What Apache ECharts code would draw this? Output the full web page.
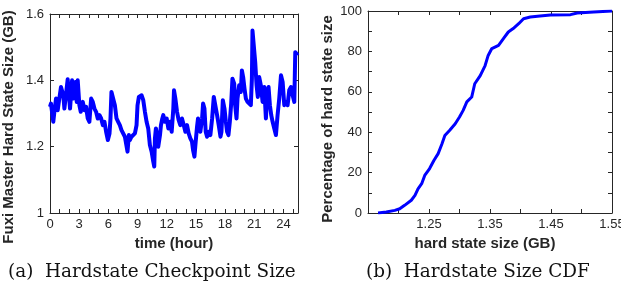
<!DOCTYPE html>
<html>
<head>
<meta charset="utf-8">
<script src="https://cdn.jsdelivr.net/npm/echarts@6/dist/echarts.min.js"></script>
<style>
html,body{margin:0;padding:0;background:#fff;}
#chart{width:621px;height:291px;}
</style>
</head>
<body>
<div id="chart"></div>
<script>
// ---- Left chart: Fuxi master hard state size over time ----
const timeHours = [0,.10,.27,.34,.45,.62,.79,.96,1.13,1.24,1.37,1.48,1.65,1.82,2.06,2.27,2.41,2.61,2.75,2.85,3.02,3.16,3.37,3.54,3.71,3.88,4.05,4.23,4.40,4.57,4.74,4.91,5.09,5.26,5.43,5.60,5.77,5.95,6.12,6.22,6.32,
6.49,6.67,6.84,7.01,7.18,7.35,7.53,7.70,7.87,7.97,8.11,8.21,8.38,8.56,8.73,8.90,9.00,9.14,9.28,9.42,9.59,9.76,9.93,10.10,10.27,10.45,10.62,10.72,10.79,10.89,11.00,11.13,11.31,11.41,11.55,11.65,11.82,12.00,12.17,12.34,12.51,12.68,
12.75,12.89,13.06,13.23,13.40,13.57,13.75,13.92,14.09,14.26,14.43,14.60,14.71,14.85,14.98,15.12,15.22,15.33,15.46,15.64,15.74,15.88,16.01,16.15,16.32,16.49,16.67,16.84,17.01,17.18,17.35,17.53,17.63,17.77,17.94,18.08,18.21,18.35,18.49,18.63,18.76,
18.94,19.04,19.18,19.28,19.45,19.62,19.73,19.86,20.00,20.14,20.31,20.48,20.65,20.76,20.82,20.96,21.10,21.24,21.37,21.51,21.68,21.86,22.03,22.20,22.34,22.47,22.61,22.75,22.89,23.06,23.23,23.40,23.57,23.75,23.92,24.09,24.26,24.43,24.60,24.78,24.95,25.12,25.22,25.36,25.46];
const stateSizeGB = [1.32,1.33,1.29,1.275,1.305,1.345,1.31,1.345,1.38,1.375,1.355,1.315,1.315,1.403,1.315,1.40,1.345,1.395,1.335,1.40,1.325,1.305,1.335,1.31,1.32,1.285,1.275,1.345,1.335,1.315,1.305,1.285,1.295,1.285,1.265,1.275,1.245,1.22,1.24,1.285,1.365,
1.345,1.325,1.285,1.275,1.265,1.25,1.245,1.23,1.225,1.185,1.235,1.22,1.23,1.225,1.24,1.265,1.325,1.35,1.345,1.355,1.34,1.305,1.275,1.255,1.205,1.185,1.155,1.14,1.225,1.255,1.235,1.20,1.235,1.265,1.285,1.295,1.275,1.285,1.255,1.275,1.245,1.315,
1.37,1.345,1.305,1.28,1.265,1.285,1.265,1.245,1.265,1.24,1.225,1.215,1.19,1.17,1.215,1.26,1.285,1.255,1.245,1.285,1.33,1.315,1.245,1.23,1.245,1.235,1.285,1.35,1.345,1.295,1.265,1.23,1.245,1.34,1.315,1.275,1.245,1.235,1.275,1.33,1.405,
1.39,1.325,1.285,1.345,1.385,1.365,1.43,1.41,1.375,1.345,1.335,1.33,1.325,1.405,1.55,1.545,1.455,1.385,1.35,1.41,1.385,1.335,1.38,1.285,1.365,1.38,1.325,1.295,1.275,1.255,1.235,1.295,1.345,1.415,1.395,1.325,1.335,1.325,1.37,1.38,1.355,1.335,1.485,1.485,1.475];
const timeTickLabels = [0,3,6,9,12,15,18,21,24];
const timeMinorTicks = [0,1,2,3,4,5,6,7,8,9,10,11,12,13,14,15,16,17,18,19,20,21,22,23,24,25];
const sizeTickLabels = [1,1.2,1.4,1.6];

// ---- Right chart: CDF of hard state size ----
const cdfSizeGB = [1.1665,1.180,1.194,1.202,1.210,1.221,1.227,1.232,1.238,1.243,1.251,1.258,1.265,1.271,1.276,1.284,1.293,1.300,1.306,1.312,1.320,1.325,1.334,1.342,1.347,1.353,1.364,1.372,1.380,1.388,1.397,1.405,1.416,1.432,1.449,1.482,1.493,1.520,1.55];
const cdfPercent = [0,0.5,1.3,2.1,3.8,6.3,8.7,12,14.5,18.6,22,26,29.4,34,38.4,41,44.2,47.5,50.8,55,57.4,64,68,73,78,81.4,83,86.3,89.6,91.3,93.7,96.2,97,97.5,98,98.2,99,99.5,100];
const cdfXTickLabels = [1.25,1.35,1.45,1.55];
const cdfXMinorTicks = [1.15,1.2,1.25,1.3,1.35,1.4,1.45,1.5,1.55];
const cdfYTickLabels = [0,20,40,60,80,100];
const cdfYMinorTicks = [0,10,20,30,40,50,60,70,80,90,100];

const captions = ['(a)  Hardstate Checkpoint Size', '(b)  Hardstate Size CDF'];

const AX = '#262626';
const LABEL_FONT = 'Liberation Sans';

function boxAxis(opts) {
  const o = {
    type: 'value',
    gridIndex: opts.grid,
    position: opts.position,
    min: opts.min, max: opts.max,
    axisLine: {show: true, onZero: false, lineStyle: {color: AX, width: 1}},
    axisTick: {show: true, inside: true, length: 4, lineStyle: {color: AX, width: 1}, customValues: opts.ticks},
    axisLabel: opts.labels ? {show: true, customValues: opts.labels, color: AX, fontFamily: LABEL_FONT, fontSize: 13, margin: opts.margin || 6} : {show: false},
    splitLine: {show: false}
  };
  if (opts.name) {
    o.name = opts.name;
    o.nameLocation = 'middle';
    o.nameGap = opts.nameGap;
    if (opts.nameRotate !== undefined) o.nameRotate = opts.nameRotate;
    o.nameTextStyle = {color: AX, fontFamily: LABEL_FONT, fontWeight: 'bold', fontSize: 15, padding: opts.namePadding || 0};
  }
  return o;
}

const chart = echarts.init(document.getElementById('chart'), null, {renderer: 'canvas'});
chart.setOption({
  backgroundColor: '#fff',
  animation: false,
  grid: [
    {left: 50, top: 14, width: 248, height: 199, outerBoundsMode: 'none', containLabel: false},
    {left: 368, top: 11, width: 244, height: 202, outerBoundsMode: 'none', containLabel: false}
  ],
  xAxis: [
    boxAxis({grid: 0, position: 'bottom', min: 0, max: 25.5, ticks: timeMinorTicks, labels: timeTickLabels, margin: 5,
      name: 'time (hour)', nameGap: 19}),
    boxAxis({grid: 0, position: 'top', min: 0, max: 25.5, ticks: timeMinorTicks}),
    boxAxis({grid: 1, position: 'bottom', min: 1.15, max: 1.55, ticks: cdfXMinorTicks, labels: cdfXTickLabels, margin: 5,
      name: 'hard state size (GB)', nameGap: 19, namePadding: [0, 10, 0, 0]}),
    boxAxis({grid: 1, position: 'top', min: 1.15, max: 1.55, ticks: cdfXMinorTicks})
  ],
  yAxis: [
    boxAxis({grid: 0, position: 'left', min: 1, max: 1.6, ticks: sizeTickLabels, labels: sizeTickLabels, margin: 6,
      name: 'Fuxi Master Hard State Size (GB)', nameGap: 34, nameRotate: 90, namePadding: [0, 27, 0, 0]}),
    boxAxis({grid: 0, position: 'right', min: 1, max: 1.6, ticks: sizeTickLabels}),
    boxAxis({grid: 1, position: 'left', min: 0, max: 100, ticks: cdfYMinorTicks, labels: cdfYTickLabels, margin: 6,
      name: 'Percentage of hard state size', nameGap: 33, nameRotate: 90, namePadding: [0, 14, 0, 0]}),
    boxAxis({grid: 1, position: 'right', min: 0, max: 100, ticks: cdfYMinorTicks})
  ],
  series: [
    {
      type: 'line', xAxisIndex: 0, yAxisIndex: 0,
      data: timeHours.map((t, i) => [t, stateSizeGB[i]]),
      showSymbol: false, symbol: 'none',
      lineStyle: {color: '#0000ff', width: 4, join: 'round'},
      clip: true
    },
    {
      type: 'line', xAxisIndex: 2, yAxisIndex: 2,
      data: cdfSizeGB.map((x, i) => [x, cdfPercent[i]]),
      showSymbol: false, symbol: 'none',
      lineStyle: {color: '#0000ff', width: 3, join: 'round'},
      clip: true
    }
  ],
  graphic: [
    {type: 'text', left: 8, top: 263, style: {text: captions[0], fill: '#111', font: '18.4px "DejaVu Serif"'}},
    {type: 'text', left: 366, top: 263, style: {text: captions[1], fill: '#111', font: '18.4px "DejaVu Serif"'}}
  ]
});
</script>
</body>
</html>
